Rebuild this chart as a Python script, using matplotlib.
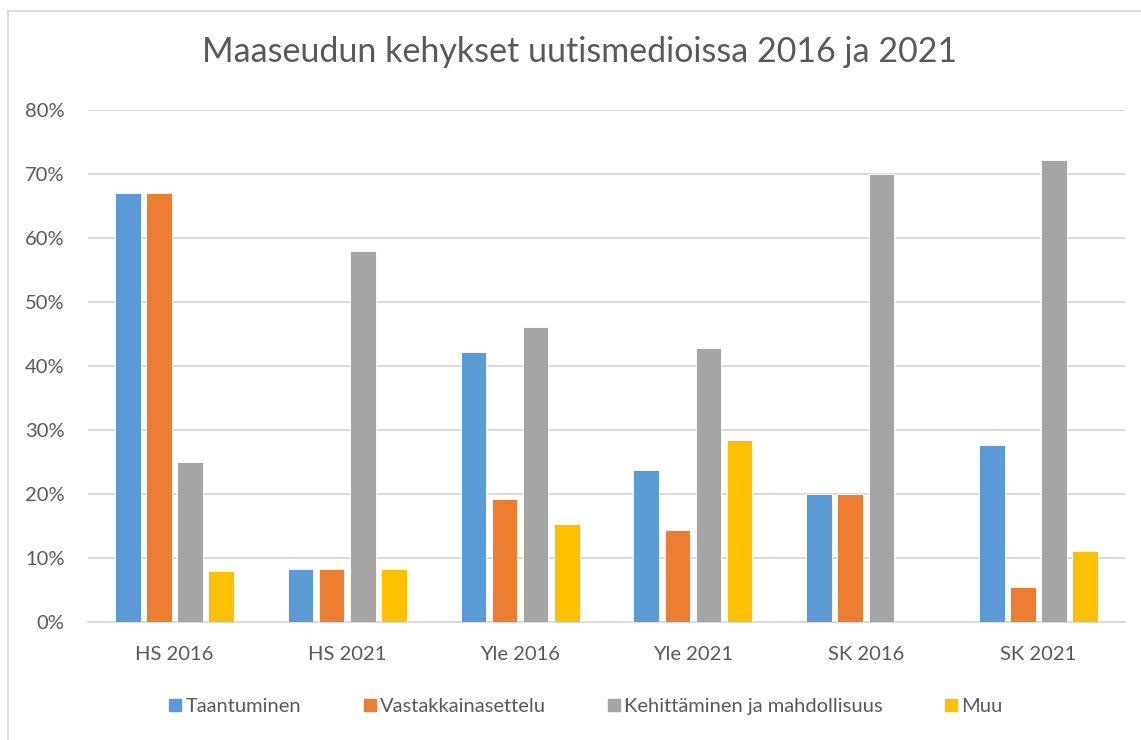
import numpy as np
import matplotlib.pyplot as plt
from matplotlib.lines import Line2D

categories = ['HS 2016', 'HS 2021', 'Yle 2016', 'Yle 2021', 'SK 2016', 'SK 2021']
series_names = ['Taantuminen', 'Vastakkainasettelu', 'Kehittäminen ja mahdollisuus', 'Muu']
taantuminen = [67.0, 8.3, 42.2, 23.8, 20.0, 27.7]
vastakkainasettelu = [67.0, 8.3, 19.2, 14.3, 20.0, 5.5]
kehittaminen = [25.0, 58.0, 46.1, 42.8, 70.0, 72.2]
muu = [8.0, 8.3, 15.3, 28.5, 0.0, 11.1]
yticks = [0, 10, 20, 30, 40, 50, 60, 70, 80]

colors = ['#5b9bd5', '#ed7d31', '#a5a5a5', '#ffc000']
text_col = '#595959'
plt.rcParams['font.family'] = ['Lato', 'DejaVu Sans']

fig = plt.figure(figsize=(11.41, 7.4), dpi=100)
ax = fig.add_axes([88/1141, 118/740, (1125-88)/1141, 512/740])

x = np.arange(len(categories))
w = 0.148
pitch = 0.18
all_series = [taantuminen, vastakkainasettelu, kehittaminen, muu]
for i, (vals, c, name) in enumerate(zip(all_series, colors, series_names)):
    ax.bar(x + (i - 1.5) * pitch, vals, width=w, color=c, label=name,
           edgecolor='white', linewidth=0.6, zorder=3)

ax.set_xlim(-0.5, len(categories) - 0.5)
ax.set_ylim(0, 80)
ax.set_yticks(yticks)
ax.set_yticklabels([f'{v}%' for v in yticks])
ax.set_xticks(x)
ax.set_xticklabels(categories)
ax.tick_params(axis='both', length=0, labelsize=14.5, colors=text_col)
ax.tick_params(axis='y', pad=17)
ax.tick_params(axis='x', pad=17)
ax.grid(axis='y', color='#d9d9d9', linewidth=1.3, zorder=0)
for s in ['top', 'right', 'left']:
    ax.spines[s].set_visible(False)
ax.spines['bottom'].set_color('#d9d9d9')
ax.spines['bottom'].set_linewidth(1.3)

fig.text(580/1141, 1 - 52/740, 'Maaseudun kehykset uutismedioissa 2016 ja 2021',
         ha='center', va='center', fontsize=24.5, color=text_col)

handles = [Line2D([], [], marker='s', linestyle='none', markersize=9,
                  markerfacecolor=c, markeredgecolor=c) for c in colors]
fig.legend(handles, series_names, loc='center', bbox_to_anchor=(585/1141, 1 - 706/740),
           ncol=4, frameon=False, fontsize=14.5, labelcolor=text_col,
           handletextpad=0.1, columnspacing=3.0, handlelength=0.8)

# chart area border
fig.add_artist(Line2D([8/1141, 1], [1 - 11/740, 1 - 11/740], color='#d9d9d9', linewidth=1.2))
fig.add_artist(Line2D([8/1141, 8/1141], [0, 1 - 11/740], color='#d9d9d9', linewidth=1.2))

fig.savefig('out.png', dpi=100)
